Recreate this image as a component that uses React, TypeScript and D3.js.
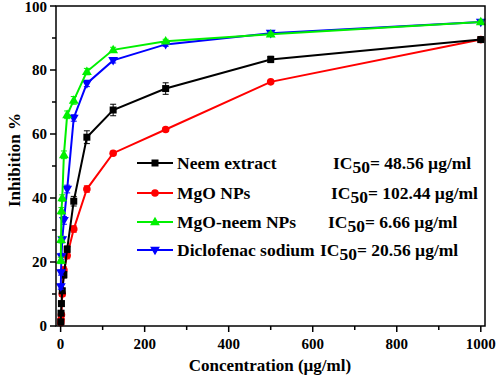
import React from "react";
import * as d3 from "d3";

const concentrations = [0.49, 0.98, 1.95, 3.9, 7.8, 15.6, 31.25, 62.5, 125, 250, 500, 1000];
const neemExtract = [1.3, 4, 7, 11, 16, 24, 39, 59, 67.5, 74.2, 83.3, 89.5];
const neemErr = [0.6, 0.6, 0.8, 0.8, 1, 1, 1.5, 2, 1.8, 1.8, 1, 0.8];
const mgoNPs = [1, 2, 3.5, 10, 17.5, 22, 30.3, 42.8, 54, 61.4, 76.3, 89.5];
const mgoErr = [0.5, 0.5, 0.5, 0.8, 1, 1, 1, 1, 0.6, 0.6, 0.5, 0.8];
const mgoNeemNPs = [20.5, 27, 36, 40, 53.5, 66, 70.5, 79.5, 86.3, 89, 91.2, 95];
const mgoNeemErr = [1, 1, 1, 1, 1.2, 1.2, 1.2, 1, 0.8, 0.6, 0.6, 0.6];
const diclofenac = [12.3, 16.7, 21.7, 27, 33, 42.8, 65, 75.8, 83, 88, 91.5, 95];
const diclofenacErr = [0.8, 0.8, 1, 1, 1.2, 1.2, 1, 1, 0.8, 0.6, 0.6, 0.6];

const seriesNames = ["Neem extract", "MgO NPs", "MgO-neem NPs", "Diclofenac sodium"];
const ic50Values = ["48.56  \u00b5g/ml", "102.44 \u00b5g/ml", "6.66 \u00b5g/ml", "20.56 \u00b5g/ml"];
const seriesColors = ["#000000", "#ff0000", "#00f000", "#0000ff"];
const seriesMarkers = ["square", "circle", "triangleUp", "triangleDown"];

const xTicks = [0, 200, 400, 600, 800, 1000];
const xMinor = [100, 300, 500, 700, 900];
const yTicks = [0, 20, 40, 60, 80, 100];
const yMinor = [10, 30, 50, 70, 90];

const W = 498;
const H = 381;
const FONT = "'Liberation Serif', 'Times New Roman', serif";

function Marker({ type, x, y, color }: { type: string; x: number; y: number; color: string }) {
  if (type === "square") return <rect x={x - 3.5} y={y - 3.5} width={7} height={7} fill={color} />;
  if (type === "circle") return <circle cx={x} cy={y} r={3.8} fill={color} />;
  const sym = d3.symbol().type(d3.symbolTriangle).size(42)() as string;
  const rot = type === "triangleDown" ? 180 : 0;
  return <path d={sym} transform={`translate(${x},${y + (rot ? -0.5 : 0.5)}) rotate(${rot})`} fill={color} />;
}

export default function App() {
  const x = d3.scaleLinear().domain([-11, 1010]).range([56, 485]);
  const y = d3.scaleLinear().domain([0, 100]).range([326, 6]);
  const values = [neemExtract, mgoNPs, mgoNeemNPs, diclofenac];
  const errs = [neemErr, mgoErr, mgoNeemErr, diclofenacErr];
  const line = d3
    .line<number>()
    .x((_, i) => x(concentrations[i]))
    .y((d) => y(d));
  const order = [1, 0, 3, 2];
  const legendY = [163, 193, 222, 250];
  const icX = [333, 331, 328, 320];
  const tstyle = { fontFamily: FONT, fontWeight: "bold" as const };

  return (
    <svg width={W} height={H} style={{ position: "absolute", left: 0, top: 0, background: "#fff" }}>
      <rect x={0} y={0} width={W} height={H} fill="#fff" />
      {order.map((si) => (
        <g key={si}>
          <path d={line(values[si]) as string} fill="none" stroke={seriesColors[si]} strokeWidth={2} />
          {values[si].map((v, i) => {
            const cx = x(concentrations[i]);
            const e = errs[si][i];
            return (
              <g key={i} stroke={seriesColors[si]} strokeWidth={1}>
                <line x1={cx} x2={cx} y1={y(v + e)} y2={y(v - e)} />
                <line x1={cx - 3} x2={cx + 3} y1={y(v + e)} y2={y(v + e)} />
                <line x1={cx - 3} x2={cx + 3} y1={y(v - e)} y2={y(v - e)} />
              </g>
            );
          })}
          {values[si].map((v, i) => (
            <Marker key={i} type={seriesMarkers[si]} x={x(concentrations[i])} y={y(v)} color={seriesColors[si]} />
          ))}
        </g>
      ))}
      <rect x={56} y={6} width={429} height={320} fill="none" stroke="#000" strokeWidth={1.5} />
      {xTicks.map((t) => (
        <g key={t}>
          <line x1={x(t)} x2={x(t)} y1={326} y2={332} stroke="#000" strokeWidth={1.5} />
          <text x={x(t)} y={349} textAnchor="middle" fontSize={15} style={tstyle}>
            {t}
          </text>
        </g>
      ))}
      {xMinor.map((t) => (
        <line key={t} x1={x(t)} x2={x(t)} y1={326} y2={330} stroke="#000" strokeWidth={1.5} />
      ))}
      {yTicks.map((t) => (
        <g key={t}>
          <line x1={50} x2={56} y1={y(t)} y2={y(t)} stroke="#000" strokeWidth={1.5} />
          <text x={47} y={Math.max(y(t) + 5, 12)} textAnchor="end" fontSize={15} style={tstyle}>
            {t}
          </text>
        </g>
      ))}
      {yMinor.map((t) => (
        <line key={t} x1={52} x2={56} y1={y(t)} y2={y(t)} stroke="#000" strokeWidth={1.5} />
      ))}
      <text x={270} y={371} textAnchor="middle" fontSize={17} style={tstyle}>
        {"Concentration (\u00b5g/ml)"}
      </text>
      <text transform="translate(20,160) rotate(-90)" textAnchor="middle" fontSize={17} style={tstyle}>
        Inhibition %
      </text>
      {seriesNames.map((name, i) => (
        <g key={name}>
          <line x1={137} x2={173} y1={legendY[i]} y2={legendY[i]} stroke={seriesColors[i]} strokeWidth={2} />
          <Marker type={seriesMarkers[i]} x={155} y={legendY[i]} color={seriesColors[i]} />
          <text x={177} y={legendY[i] + 6} fontSize={17.5} style={tstyle}>
            {name}
          </text>
          <text x={icX[i]} y={legendY[i] + 6} fontSize={17.5} style={tstyle}>
            IC<tspan dy={4}>50</tspan>
            <tspan dy={-4}>= {ic50Values[i]}</tspan>
          </text>
        </g>
      ))}
    </svg>
  );
}
